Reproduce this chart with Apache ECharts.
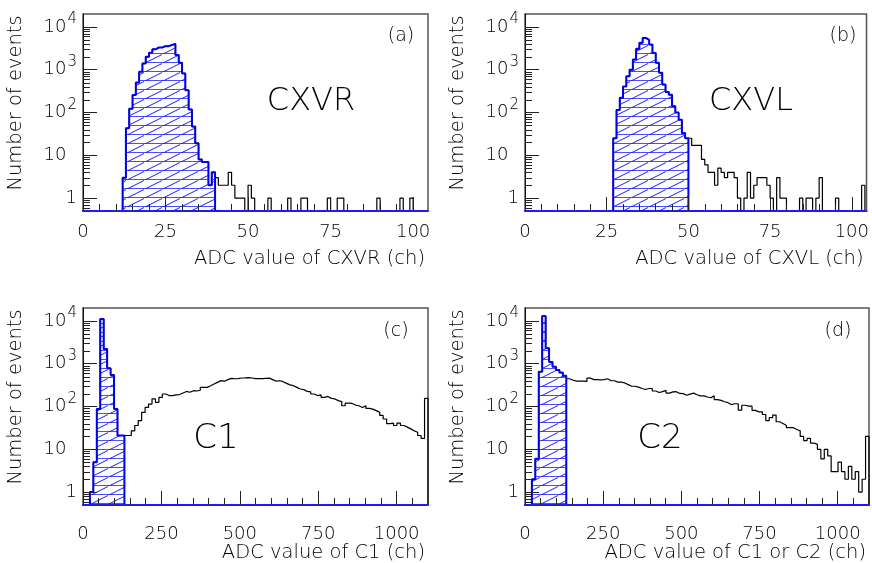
<!DOCTYPE html>
<html>
<head>
<meta charset="utf-8">
<script src="https://cdn.jsdelivr.net/npm/echarts@6.0.0/dist/echarts.min.js"></script>
<style>
html,body{margin:0;padding:0;background:#ffffff;}
#chart{width:872px;height:563px;}
</style>
</head>
<body>
<div id="chart"></div>
<script>
// ---------------- data ----------------
const yTickValues = [1, 10, 100, 1000, 10000];
const yMinorTickValues = [0.6, 0.7, 0.8, 0.9, 2, 3, 4, 5, 6, 7, 8, 9, 20, 30, 40, 50, 60, 70, 80, 90,
  200, 300, 400, 500, 600, 700, 800, 900, 2000, 3000, 4000, 5000, 6000, 7000, 8000, 9000];
const xTickLabelsCX = [0, 25, 50, 75, 100];
const xTickLabelsC = [0, 250, 500, 750, 1000];

// (a) CXVR : bins of 1 ch
const cxvrBinWidth = 1;
const cxvrCutStart = 12;
const cxvrCut = [3, 43, 123, 258, 500, 900, 1400, 2000, 2500, 3000, 3300, 3300, 3550, 3550, 3800, 4000,
  2200, 1450, 820, 330, 118, 47, 19, 8, 7, 7, 2, 4];
const cxvrRest = [3, 2, 2, 2, 4, 2, 1, 1, 1, 0, 2, 1, 0, 0, 0, 0, 1, 0, 0, 0,
  0, 0, 1, 0, 0, 0, 1, 1, 0, 0, 0, 0, 0, 0, 1, 0, 0, 1, 1, 0,
  0, 0, 0, 0, 0, 0, 0, 0, 0, 1, 0, 0, 0, 0, 0, 0, 1, 0, 0, 1, 0, 0, 0, 0];

// (b) CXVL : bins of 1 ch
const cxvlBinWidth = 1;
const cxvlCutStart = 27;
const cxvlCut = [25, 115, 220, 405, 700, 1000, 1730, 3070, 4250, 5500, 5000, 3860, 2450, 1450, 850,
  450, 300, 260, 140, 100, 68, 33, 25];
const cxvlRest = [25, 17, 17, 17, 8, 6, 4, 4, 2, 5, 4, 3, 4, 4, 3, 1, 0, 1, 4, 1,
  2, 3, 3, 3, 2, 1, 0, 3, 1, 1, 0, 0, 0, 0, 1, 0, 1, 1, 0, 1,
  3, 0, 0, 0, 0, 1, 0, 0, 0, 0, 0, 0, 0, 2];

// (c) C1 : bins of 11 ch
const c1BinWidth = 11;
const c1CutStart = 2;
const c1Cut = [1, 5, 88, 11000, 2200, 780, 545, 87, 21, 21];
const c1Rest = [21, 21, 27, 36, 47, 73, 95, 114, 150, 125,
  164, 196, 180, 180, 186, 190, 207, 225, 215, 234,
  230, 240, 280, 280, 306, 335, 366, 402, 390, 425,
  455, 445, 450, 463, 465, 471, 463, 450, 450, 450,
  455, 460, 425, 390, 400, 380, 347, 320, 306, 280,
  256, 248, 225, 220, 196, 180, 186, 164, 172, 155,
  150, 137, 130, 104, 120, 118, 108, 104, 95, 104,
  90, 87, 80, 73, 62, 51, 40, 41, 36, 41,
  36, 33, 30, 27, 25, 21, 18, 155];

// (d) C1 or C2 : bins of 11 ch
const c2BinWidth = 11;
const c2CutStart = 2;
const c2Cut = [2, 6, 650, 13000, 2300, 1100, 850, 710, 620, 520];
const c2Rest = [445, 410, 390, 390, 390, 385, 460, 425, 425, 420,
  425, 445, 400, 400, 370, 370, 355, 325, 297, 297,
  283, 263, 250, 263, 263, 230, 212, 222, 238, 205,
  220, 222, 202, 200, 183, 195, 205, 188, 177, 177,
  167, 160, 177, 145, 139, 129, 123, 111, 116, 116,
  82, 107, 102, 102, 81, 75, 75, 65, 47, 55,
  63, 44, 40, 36, 32, 32, 29, 27, 20, 16,
  18, 14, 13, 10, 6, 10, 7, 3, 3, 5,
  3, 2, 4, 2, 3, 1, 2, 20];

// ---------------- helpers ----------------
const FONT = '"DejaVu Sans", sans-serif';
const WEIGHT = 200;
const TXT = '#000';
const Y_MIN = 0.5, Y_MAX = 20000;

function histPoints(start, width, counts) {
  const pts = [[start * width, Y_MIN]];
  counts.forEach((c, i) => pts.push([(start + i) * width, c > 0 ? c : Y_MIN]));
  pts.push([(start + counts.length) * width, Y_MIN]);
  return pts;
}

function makeHatch() {
  const c = document.createElement('canvas');
  c.width = 18; c.height = 9;
  const g = c.getContext('2d');
  g.fillStyle = '#4d4dff';
  g.fillRect(0, 8, 18, 1);
  g.strokeStyle = '#1c1cff';
  g.lineWidth = 1;
  g.beginPath();
  [-18, 0, 18].forEach(dx => { g.moveTo(dx, 9.5); g.lineTo(dx + 18, 0.5); });
  g.stroke();
  return c;
}
const hatch = makeHatch();

function yLabel(v) {
  const e = Math.round(Math.log10(v));
  if (e === 0) return '{b|1}';
  if (e === 1) return '{b|10}{h|0}';
  return '{b|10}{s|' + e + '}';
}

const panels = [
  {left: 83, top: 14, width: 345, height: 197, xmax: 104.5, interval: 25, ticks: xTickLabelsCX, margin: 12,
   xname: 'ADC value of CXVR (ch)', start: cxvrCutStart, w: cxvrBinWidth, cut: cxvrCut, rest: cxvrRest},
  {left: 525, top: 14, width: 344, height: 197, xmax: 104.5, interval: 25, ticks: xTickLabelsCX, margin: 12,
   xname: 'ADC value of CXVL (ch)', start: cxvlCutStart, w: cxvlBinWidth, cut: cxvlCut, rest: cxvlRest},
  {left: 83, top: 308, width: 345, height: 197, xmax: 1100, interval: 250, ticks: xTickLabelsC, margin: 20,
   xname: 'ADC value of C1 (ch)', start: c1CutStart, w: c1BinWidth, cut: c1Cut, rest: c1Rest},
  {left: 525, top: 308, width: 344, height: 197, xmax: 1100, interval: 250, ticks: xTickLabelsC, margin: 20,
   xname: 'ADC value of C1 or C2 (ch)', start: c2CutStart, w: c2BinWidth, cut: c2Cut, rest: c2Rest}
];

const grid = [], xAxis = [], yAxis = [], series = [];
panels.forEach((p, i) => {
  grid.push({left: p.left, top: p.top, width: p.width, height: p.height, show: true,
    borderColor: '#555', borderWidth: 1.5, backgroundColor: 'transparent', containLabel: false});
  xAxis.push({
    type: 'value', gridIndex: i, min: 0, max: p.xmax, interval: p.interval, position: 'bottom', z: 10,
    axisLine: {show: true, onZero: false, lineStyle: {color: '#1a1aff', width: 2}},
    axisTick: {show: true, inside: true, length: 14, customValues: p.ticks, lineStyle: {color: '#222', width: 1}},
    minorTick: {show: true, splitNumber: 5, length: 7, lineStyle: {color: '#222', width: 1}},
    axisLabel: {customValues: p.ticks, margin: p.margin, fontSize: 18, fontWeight: WEIGHT, fontFamily: FONT, color: TXT,
      formatter: v => String(v)},
    splitLine: {show: false}, minorSplitLine: {show: false},
    name: p.xname, nameLocation: 'end', nameGap: -3, nameMoveOverlap: false,
    nameTextStyle: {align: 'right', verticalAlign: 'top', padding: [38, 0, 0, 0], fontSize: 19.5, fontWeight: WEIGHT,
      fontFamily: FONT, color: TXT}
  });
  yAxis.push({
    type: 'log', logBase: 10, gridIndex: i, min: Y_MIN, max: Y_MAX, position: 'left', z: 10,
    axisLine: {show: true, onZero: false, lineStyle: {color: '#111', width: 1}},
    axisTick: {show: true, inside: true, length: 14, customValues: yTickValues, lineStyle: {color: '#222', width: 1}},
    minorTick: {show: false},
    axisLabel: {customValues: yTickValues, margin: 6, formatter: yLabel,
      rich: {
        b: {fontSize: 18, lineHeight: 18, fontWeight: WEIGHT, fontFamily: FONT, color: TXT, verticalAlign: 'bottom'},
        s: {fontSize: 15, lineHeight: 15, fontWeight: WEIGHT, fontFamily: FONT, color: TXT, verticalAlign: 'bottom', padding: [0, 0, 9, 1]},
        h: {fontSize: 15, lineHeight: 15, fontWeight: WEIGHT, fontFamily: FONT, color: 'rgba(0,0,0,0)', verticalAlign: 'bottom', padding: [0, 0, 9, 1]}
      }},
    splitLine: {show: false},
    name: 'Number of events', nameLocation: 'middle', nameGap: 57, nameRotate: 90, nameMoveOverlap: false,
    nameTextStyle: {fontSize: 19.5, fontWeight: WEIGHT, fontFamily: FONT, color: TXT, padding: [0, 0, 0, 19]}
  });
  // all-events histogram (black)
  series.push({
    type: 'line', xAxisIndex: i, yAxisIndex: i, step: 'end', symbol: 'none', silent: true, z: 2,
    data: histPoints(p.start, p.w, p.cut.concat(p.rest)),
    lineStyle: {color: '#000', width: 1.2}
  });
  // selected events (blue hatched)
  series.push({
    type: 'line', xAxisIndex: i, yAxisIndex: i, step: 'end', symbol: 'none', silent: true, z: 3,
    data: histPoints(p.start, p.w, p.cut),
    lineStyle: {color: '#0000e6', width: 2},
    areaStyle: {origin: 'start', color: {image: hatch, repeat: 'repeat'}, opacity: 1}
  });
  // minor log ticks (2..9 x 10^k) along the left axis, placed through the axis scale
  series.push({
    type: 'custom', xAxisIndex: i, yAxisIndex: i, silent: true, z: 11, clip: false,
    data: yMinorTickValues.map(v => [0, v]),
    renderItem: (params, api) => {
      const pt = api.coord([api.value(0), api.value(1)]);
      const y = Math.round(pt[1]) + 0.5;
      return {type: 'line', shape: {x1: pt[0], y1: y, x2: pt[0] + 7, y2: y},
        style: {stroke: '#222', lineWidth: 1}};
    }
  });
});

function label(text, x, y, size) {
  return {type: 'text', x: x, y: y, silent: true, z: 20,
    style: {text: text, fill: TXT, font: WEIGHT + ' ' + size + 'px ' + FONT, align: 'center', verticalAlign: 'middle'}};
}

const chart = echarts.init(document.getElementById('chart'), null, {renderer: 'canvas'});
chart.setOption({
  animation: false,
  backgroundColor: '#ffffff',
  textStyle: {fontFamily: FONT},
  grid: grid, xAxis: xAxis, yAxis: yAxis, series: series,
  graphic: [
    label('(a)', 401, 36, 19), label('(b)', 843, 36, 19),
    label('(c)', 396, 331, 19), label('(d)', 838, 331, 19),
    label('CXVR', 311, 102, 32), label('CXVL', 751, 102, 32),
    label('C1', 216, 439, 34), label('C2', 660, 439, 34)
  ]
});
</script>
</body>
</html>
